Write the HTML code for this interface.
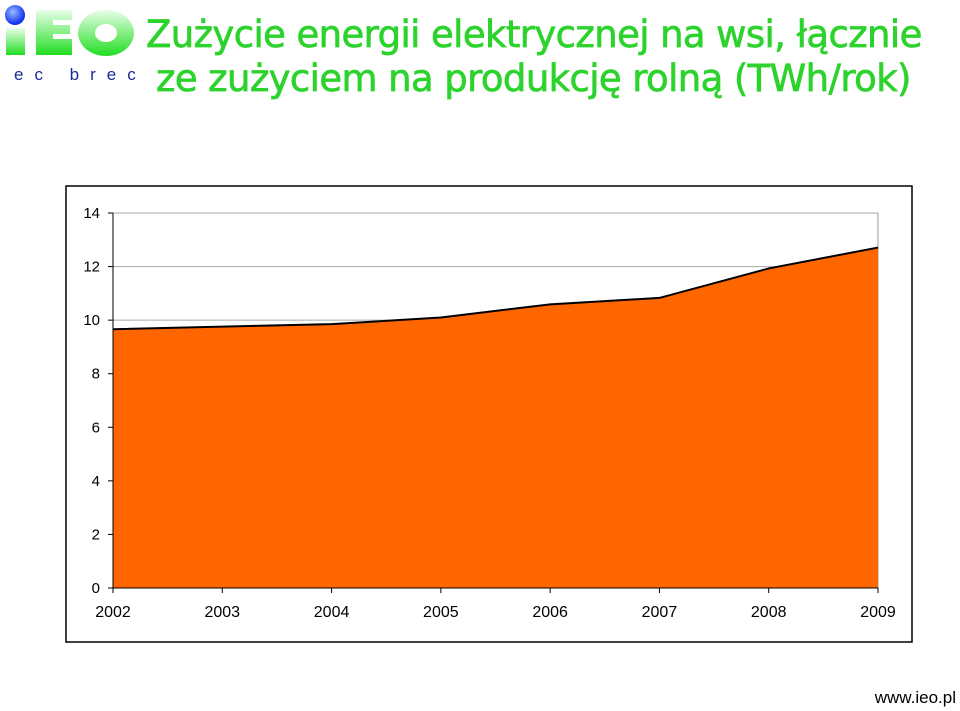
<!DOCTYPE html>
<html><head><meta charset="utf-8"><style>
body{margin:0;background:#fff;width:960px;height:711px;overflow:hidden;font-family:"Liberation Sans",sans-serif;position:relative}
.title{position:absolute;left:146px;top:14px;color:#2dd32d;font-size:37px;line-height:42px;font-family:"DejaVu Sans","Liberation Sans",sans-serif;letter-spacing:-0.6px;-webkit-text-stroke:0.7px #2dd32d}
.t2{left:156px;top:58px}
.url{position:absolute;right:4px;top:688px;font-size:17px;color:#000}
</style></head><body>
<svg style="position:absolute;left:0;top:0" width="140" height="90">
<defs><linearGradient id="g" x1="0" y1="0" x2="0" y2="1"><stop offset="0" stop-color="#e8ffe8"/><stop offset="1" stop-color="#22dd22"/></linearGradient>
<radialGradient id="b" cx="0.4" cy="0.35" r="0.6"><stop offset="0" stop-color="#99bbff"/><stop offset="1" stop-color="#1133ee"/></radialGradient></defs>
<circle cx="15" cy="15" r="10" fill="url(#b)"/>
<rect x="6" y="28" width="19" height="27" fill="url(#g)"/>
<path d="M36 10h36v10h-19v5h17v9h-17v5h19v16h-36z" fill="url(#g)"/>
<ellipse cx="106" cy="33" rx="28" ry="23" fill="url(#g)"/>
<ellipse cx="106" cy="33" rx="11" ry="9" fill="#fff"/>
<text x="14" y="80" font-size="17" fill="#1a2a9a" letter-spacing="11" font-family="Liberation Sans, sans-serif">ec brec</text>
</svg>
<div class="title">Zużycie energii elektrycznej na wsi, łącznie</div>
<div class="title t2">ze zużyciem na produkcję rolną (TWh/rok)</div>
<svg id="chart" style="position:absolute;left:0;top:0" width="960" height="711"></svg>
<div class="url">www.ieo.pl</div>
<script>
const categories=["2002","2003","2004","2005","2006","2007","2008","2009"];
const values=[9.66,9.76,9.85,10.1,10.59,10.83,11.93,12.71];
const yTicks=[0,2,4,6,8,10,12,14];
const NS="http://www.w3.org/2000/svg";
const svg=document.getElementById('chart');
const x0=113,x1=878,yb=588,yt=213,ymax=14;
const xs=i=>x0+i*(x1-x0)/(categories.length-1);
const ys=v=>yb-v*(yb-yt)/ymax;
function mk(t,a){const e=document.createElementNS(NS,t);for(const k in a)e.setAttribute(k,a[k]);svg.appendChild(e);return e;}
let fr=mk('rect',{x:66,y:186,width:846,height:456,fill:'none',stroke:'#000','stroke-width':1.5});


yTicks.forEach(v=>{
 if(v>0){let g=mk('line',{x1:x0,x2:x1,y1:ys(v),y2:ys(v),stroke:'#aaa','stroke-width':1});
 
 }
 let tk=mk('line',{x1:x0-5,x2:x0,y1:ys(v),y2:ys(v),stroke:'#000'});
 
 
 let t=mk('text',{x:100,y:ys(v)+5,'text-anchor':'end','font-size':15,fill:'#000'});t.textContent=v;
 
 
});
mk('line',{x1:x1,x2:x1,y1:yt,y2:yb,stroke:'#999'});
let d='M'+xs(0)+','+yb;values.forEach((v,i)=>d+=' L'+xs(i)+','+ys(v));d+=' L'+xs(values.length-1)+','+yb+'Z';
let ar=mk('path',{d:d,fill:'#ff6600',stroke:'none'});


let ld='';values.forEach((v,i)=>ld+=(i?' L':'M')+xs(i)+','+ys(v));
let ln=mk('path',{d:ld,fill:'none',stroke:'#000','stroke-width':2});


mk('line',{x1:x0,x2:x0,y1:yt,y2:yb,stroke:'#000'});
mk('line',{x1:x0,x2:x1,y1:yb,y2:yb,stroke:'#000'});
categories.forEach((c,i)=>{
 let tk=mk('line',{x1:xs(i),x2:xs(i),y1:yb,y2:yb+5,stroke:'#000'});
 
 
 let t=mk('text',{x:xs(i),y:617,'text-anchor':'middle','font-size':16,fill:'#000'});t.textContent=c;
 
 
});
</script>
</body></html>
